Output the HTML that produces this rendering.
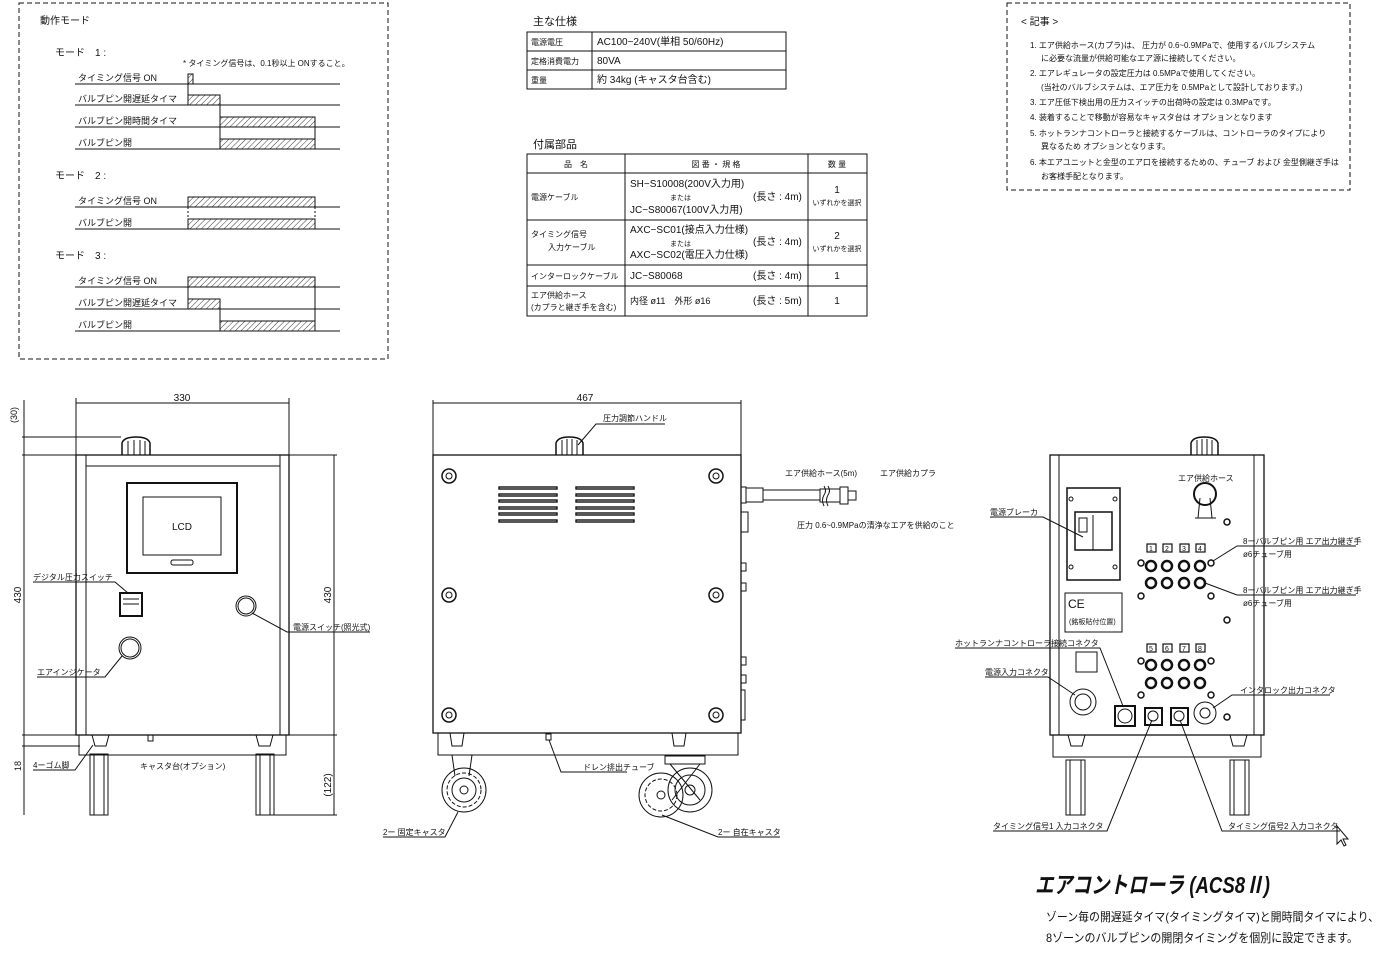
<!DOCTYPE html>
<html><head><meta charset="utf-8"><style>
html,body{margin:0;padding:0;background:#fff}
svg{display:block}
text{font-family:"Liberation Sans","Noto Sans CJK JP",sans-serif;fill:#111}
</style></head><body>
<svg width="1385" height="955" viewBox="0 0 1385 955" xmlns="http://www.w3.org/2000/svg">
<defs>
<pattern id="h" width="4" height="4" patternUnits="userSpaceOnUse" patternTransform="rotate(45)">
<line x1="0" y1="0" x2="0" y2="4" stroke="#222" stroke-width="0.9"/></pattern>
</defs>
<g stroke="#111" fill="none" stroke-width="1">
<rect x="19" y="3" width="369" height="356" stroke-dasharray="5,3"/>
<g>
<line x1="75" y1="84" x2="340" y2="84"/><line x1="75" y1="105" x2="340" y2="105"/>
<line x1="75" y1="127" x2="340" y2="127"/><line x1="75" y1="149" x2="340" y2="149"/>
<rect x="188" y="74" width="5" height="10" fill="url(#h)"/>
<rect x="188" y="95" width="32" height="10" fill="url(#h)"/>
<rect x="220" y="117" width="95" height="10" fill="url(#h)"/>
<rect x="220" y="139" width="95" height="10" fill="url(#h)"/>
<line x1="188" y1="84" x2="188" y2="95"/><line x1="220" y1="105" x2="220" y2="139"/><line x1="315" y1="127" x2="315" y2="139"/>
<line x1="75" y1="207" x2="340" y2="207"/><line x1="75" y1="229" x2="340" y2="229"/>
<rect x="188" y="197" width="127" height="10" fill="url(#h)"/>
<rect x="188" y="219" width="127" height="10" fill="url(#h)"/>
<line x1="188" y1="207" x2="188" y2="219" stroke-dasharray="2,2"/><line x1="315" y1="207" x2="315" y2="219" stroke-dasharray="2,2"/>
<line x1="75" y1="287" x2="340" y2="287"/><line x1="75" y1="309" x2="340" y2="309"/><line x1="75" y1="331" x2="340" y2="331"/>
<rect x="188" y="277" width="127" height="10" fill="url(#h)"/>
<rect x="188" y="299" width="32" height="10" fill="url(#h)"/>
<rect x="220" y="321" width="95" height="10" fill="url(#h)"/>
<line x1="188" y1="287" x2="188" y2="299"/><line x1="220" y1="309" x2="220" y2="321"/>
<line x1="315" y1="287" x2="315" y2="321"/>
</g>
<rect x="527" y="32" width="259" height="57"/>
<line x1="527" y1="51" x2="786" y2="51"/><line x1="527" y1="70" x2="786" y2="70"/>
<line x1="592" y1="32" x2="592" y2="89"/>
<rect x="527" y="154" width="340" height="162"/>
<line x1="527" y1="173" x2="867" y2="173"/><line x1="527" y1="220" x2="867" y2="220"/>
<line x1="527" y1="265" x2="867" y2="265"/><line x1="527" y1="286" x2="867" y2="286"/>
<line x1="625" y1="154" x2="625" y2="316"/><line x1="808" y1="154" x2="808" y2="316"/>
<rect x="1007" y="3" width="343" height="187" stroke-dasharray="5,3"/>

<line x1="76" y1="403" x2="289" y2="403"/>
<line x1="76" y1="398" x2="76" y2="455"/><line x1="289" y1="398" x2="289" y2="455"/>
<line x1="24" y1="400" x2="24" y2="815"/>
<line x1="22" y1="437" x2="121" y2="437"/><line x1="22" y1="455" x2="76" y2="455"/>
<line x1="22" y1="735" x2="76" y2="735"/><line x1="22" y1="746" x2="80" y2="746"/>
<line x1="334" y1="455" x2="334" y2="815"/>
<line x1="289" y1="455" x2="337" y2="455"/><line x1="289" y1="735" x2="337" y2="735"/>
<line x1="274" y1="815" x2="337" y2="815"/>
<rect x="76" y="455" width="213" height="280" stroke-width="1.3"/>
<line x1="86" y1="455" x2="86" y2="735"/><line x1="280" y1="455" x2="280" y2="735"/>
<line x1="86" y1="466" x2="280" y2="466"/>
<path d="M122 455 L122 443 Q124 437 136 437 Q148 437 150 443 L150 455" stroke-width="1.5"/>
<line x1="128" y1="441" x2="128" y2="455"/><line x1="134" y1="440" x2="134" y2="455"/><line x1="140" y1="440" x2="140" y2="455"/><line x1="145" y1="441" x2="145" y2="455"/>
<rect x="127" y="483" width="110" height="90" stroke-width="2"/>
<rect x="143" y="497" width="78" height="58"/>
<rect x="171" y="560" width="22" height="5" rx="2"/>
<rect x="120" y="593" width="22" height="23" stroke-width="2"/>
<line x1="123" y1="599" x2="139" y2="599"/><line x1="123" y1="604" x2="139" y2="604"/>
<circle cx="246" cy="606" r="10"/><circle cx="246" cy="606" r="8"/>
<circle cx="130" cy="648" r="11"/><circle cx="130" cy="648" r="9"/>
<rect x="79" y="735" width="207" height="20"/>
<path d="M92 735 L95 746 L106 746 L109 735"/><path d="M256 735 L259 746 L270 746 L273 735"/>
<rect x="148" y="735" width="5" height="6"/>
<rect x="90" y="754" width="18" height="61"/><rect x="94" y="754" width="10" height="61"/>
<rect x="256" y="754" width="18" height="61"/><rect x="260" y="754" width="10" height="61"/>
<polyline points="33,582 115,582 128,593"/>
<polyline points="370,632 287,632 252,613"/>
<polyline points="37,677 105,677 122,656"/>
<polyline points="33,770 75,770 93,745"/>

<line x1="433" y1="403" x2="741" y2="403"/>
<line x1="433" y1="400" x2="433" y2="455"/><line x1="741" y1="400" x2="741" y2="455"/>
<rect x="433" y="455" width="308" height="278" stroke-width="1.3"/>
<path d="M556 455 L556 443 Q558 437 569 437 Q581 437 583 443 L583 455" stroke-width="1.5"/>
<line x1="562" y1="440" x2="562" y2="455"/><line x1="567" y1="439" x2="567" y2="455"/><line x1="572" y1="439" x2="572" y2="455"/><line x1="577" y1="440" x2="577" y2="455"/>
<polyline points="578,445 596,424 665,424"/>
<g stroke-width="1.5">
<circle cx="449" cy="476" r="7"/><circle cx="449" cy="595" r="7"/><circle cx="449" cy="715" r="7"/>
<circle cx="716" cy="476" r="7"/><circle cx="716" cy="595" r="7"/><circle cx="716" cy="715" r="7"/>
</g>
<g><circle cx="449" cy="476" r="3"/><circle cx="449" cy="595" r="3"/><circle cx="449" cy="715" r="3"/>
<circle cx="716" cy="476" r="3"/><circle cx="716" cy="595" r="3"/><circle cx="716" cy="715" r="3"/></g>
<g stroke-width="1.4">
<rect x="499" y="487" width="58" height="2"/><rect x="499" y="494" width="58" height="2"/><rect x="499" y="500" width="58" height="2"/><rect x="499" y="507" width="58" height="2"/><rect x="499" y="513" width="58" height="2"/><rect x="499" y="520" width="58" height="2"/>
<rect x="576" y="487" width="58" height="2"/><rect x="576" y="494" width="58" height="2"/><rect x="576" y="500" width="58" height="2"/><rect x="576" y="507" width="58" height="2"/><rect x="576" y="513" width="58" height="2"/><rect x="576" y="520" width="58" height="2"/>
</g>
<rect x="741" y="487" width="5" height="16"/><rect x="746" y="488" width="17" height="14"/>
<line x1="763" y1="490" x2="820" y2="490"/><line x1="763" y1="500" x2="820" y2="500"/>
<path d="M824 486 q3 5 0 9 q-3 5 0 11"/><path d="M828 486 q3 5 0 9 q-3 5 0 11"/>
<rect x="820" y="489" width="20" height="13"/><rect x="840" y="487" width="8" height="17"/><rect x="848" y="491" width="8" height="9"/>
<rect x="741" y="512" width="7" height="20"/>
<rect x="741" y="563" width="5" height="8"/><rect x="741" y="583" width="5" height="8"/>
<rect x="741" y="657" width="5" height="8"/><rect x="741" y="675" width="5" height="8"/>
<rect x="741" y="690" width="4" height="30"/>
<rect x="438" y="733" width="300" height="22"/>
<path d="M450 733 L452 746 L462 746 L464 733"/><path d="M672 733 L674 746 L684 746 L686 733"/>
<rect x="546" y="734" width="5" height="6"/>
<polyline points="549,740 561,772 627,772"/>
<path d="M452 755 L455 776 M472 755 L469 776"/>
<circle cx="464" cy="790" r="22"/><circle cx="464" cy="790" r="17" stroke-dasharray="4,2"/><circle cx="464" cy="790" r="12"/><circle cx="464" cy="790" r="4"/>
<circle cx="661" cy="795" r="22"/><circle cx="661" cy="795" r="16" stroke-dasharray="4,2"/><circle cx="661" cy="795" r="4"/>
<circle cx="690" cy="790" r="22"/><circle cx="690" cy="790" r="15"/><circle cx="690" cy="790" r="5"/>
<rect x="665" y="756" width="40" height="8"/><path d="M670 764 L700 800 M700 764 L672 800"/>
<polyline points="383,837 445,837 458,812"/>
<polyline points="780,837 718,837 662,815"/>

<rect x="1050" y="455" width="214" height="280" stroke-width="1.3"/>
<line x1="1059" y1="455" x2="1059" y2="735"/><line x1="1254" y1="455" x2="1254" y2="735"/>
<path d="M1191 455 L1191 443 Q1193 437 1204 437 Q1216 437 1218 443 L1218 455" stroke-width="1.5"/>
<line x1="1197" y1="440" x2="1197" y2="455"/><line x1="1202" y1="439" x2="1202" y2="455"/><line x1="1207" y1="439" x2="1207" y2="455"/><line x1="1212" y1="440" x2="1212" y2="455"/>
<rect x="1067" y="488" width="53" height="92" stroke-width="1.5"/>
<rect x="1075" y="512" width="37" height="38" stroke-width="1.5"/><line x1="1093" y1="515" x2="1093" y2="550"/>
<rect x="1079" y="518" width="8" height="14"/>
<circle cx="1071" cy="499" r="2"/><circle cx="1115" cy="499" r="2"/><circle cx="1071" cy="567" r="2"/><circle cx="1115" cy="567" r="2"/>
<rect x="1065" y="593" width="57" height="39"/>
<circle cx="1205" cy="494" r="11" stroke-width="2"/><path d="M1200 498 L1198 518 M1210 498 L1212 518 M1195 518 L1216 518"/>
<circle cx="1227" cy="522" r="3" stroke-width="1.5"/>
<g stroke-width="1.2">
<rect x="1147" y="544" width="9" height="8"/><rect x="1163" y="544" width="9" height="8"/><rect x="1180" y="544" width="9" height="8"/><rect x="1196" y="544" width="9" height="8"/>
<rect x="1147" y="644" width="9" height="8"/><rect x="1163" y="644" width="9" height="8"/><rect x="1180" y="644" width="9" height="8"/><rect x="1196" y="644" width="9" height="8"/>
</g>
<g stroke-width="2.5">
<circle cx="1151" cy="566" r="5"/><circle cx="1167" cy="566" r="5"/><circle cx="1184" cy="566" r="5"/><circle cx="1200" cy="566" r="5"/>
<circle cx="1151" cy="583" r="5"/><circle cx="1167" cy="583" r="5"/><circle cx="1184" cy="583" r="5"/><circle cx="1200" cy="583" r="5"/>
<circle cx="1151" cy="665" r="5"/><circle cx="1167" cy="665" r="5"/><circle cx="1184" cy="665" r="5"/><circle cx="1200" cy="665" r="5"/>
<circle cx="1151" cy="683" r="5"/><circle cx="1167" cy="683" r="5"/><circle cx="1184" cy="683" r="5"/><circle cx="1200" cy="683" r="5"/>
</g>
<g stroke-width="1.5">
<circle cx="1141" cy="563" r="3"/><circle cx="1211" cy="563" r="3"/><circle cx="1141" cy="596" r="3"/><circle cx="1211" cy="596" r="3"/><circle cx="1227" cy="620" r="3"/>
<circle cx="1141" cy="661" r="3"/><circle cx="1211" cy="661" r="3"/><circle cx="1141" cy="695" r="3"/><circle cx="1211" cy="695" r="3"/><circle cx="1227" cy="717" r="3"/>
</g>
<rect x="1076" y="652" width="21" height="20"/>
<circle cx="1083" cy="702" r="13"/><circle cx="1083" cy="702" r="8"/>
<rect x="1115" y="706" width="20" height="20" stroke-width="2"/><circle cx="1125" cy="716" r="7"/>
<rect x="1145" y="708" width="17" height="17" stroke-width="2"/><circle cx="1153" cy="716" r="5"/>
<rect x="1171" y="708" width="17" height="17" stroke-width="2"/><circle cx="1179" cy="716" r="5"/>
<circle cx="1205" cy="713" r="11"/><circle cx="1205" cy="713" r="5"/>
<rect x="1053" y="735" width="208" height="22"/>
<path d="M1068 735 L1071 746 L1082 746 L1085 735"/><path d="M1230 735 L1233 746 L1244 746 L1247 735"/>
<rect x="1066" y="760" width="19" height="55"/><rect x="1070" y="760" width="11" height="55"/>
<rect x="1230" y="760" width="19" height="55"/><rect x="1234" y="760" width="11" height="55"/>
<polyline points="990,517 1043,517 1083,537"/>
<polyline points="1356,546 1237,546 1213,561"/>
<polyline points="1356,595 1237,595 1205,583"/>
<polyline points="955,648 1100,648 1123,706"/>
<polyline points="985,677 1048,677 1075,695"/>
<polyline points="1330,695 1232,695 1213,708"/>
<polyline points="993,831 1107,831 1152,720"/>
<polyline points="1340,831 1222,831 1180,720"/>
<path d="M1337 826 L1337 844 L1341 840 L1344 846 L1346 845 L1343 839 L1348 839 Z"/>
</g>

<g font-size="9">
<text x="40" y="24" font-size="10">動作モード</text>
<text x="55" y="56" font-size="10">モード　1 :</text>
<text x="183" y="66" font-size="8">* タイミング信号は、0.1秒以上 ONすること。</text>
<text x="78" y="81">タイミング信号 ON</text><text x="78" y="102">バルブピン開遅延タイマ</text>
<text x="78" y="124">バルブピン開時間タイマ</text><text x="78" y="146">バルブピン開</text>
<text x="55" y="179" font-size="10">モード　2 :</text>
<text x="78" y="204">タイミング信号 ON</text><text x="78" y="226">バルブピン開</text>
<text x="55" y="259" font-size="10">モード　3 :</text>
<text x="78" y="284">タイミング信号 ON</text><text x="78" y="306">バルブピン開遅延タイマ</text><text x="78" y="328">バルブピン開</text>

<text x="533" y="25" font-size="11">主な仕様</text>
<text x="531" y="45" font-size="8">電源電圧</text><text x="597" y="45" font-size="10">AC100~240V(単相 50/60Hz)</text>
<text x="531" y="64" font-size="8">定格消費電力</text><text x="597" y="64" font-size="10">80VA</text>
<text x="531" y="83" font-size="8">重量</text><text x="597" y="83" font-size="10">約 34kg (キャスタ台含む)</text>
<text x="533" y="148" font-size="11">付属部品</text>
<text x="576" y="167" text-anchor="middle" font-size="8">品　名</text>
<text x="716" y="167" text-anchor="middle" font-size="8">図 番 ・ 規 格</text>
<text x="837" y="167" text-anchor="middle" font-size="8">数 量</text>
<text x="531" y="200" font-size="8">電源ケーブル</text>
<text x="630" y="187" font-size="10">SH−S10008(200V入力用)</text><text x="670" y="200" font-size="7">または</text><text x="630" y="213" font-size="10">JC−S80067(100V入力用)</text>
<text x="753" y="200" font-size="10">(長さ : 4m)</text>
<text x="837" y="193" text-anchor="middle" font-size="10">1</text><text x="837" y="205" text-anchor="middle" font-size="7">いずれかを選択</text>
<text x="531" y="237" font-size="8">タイミング信号</text><text x="548" y="250" font-size="8">入力ケーブル</text>
<text x="630" y="233" font-size="10">AXC−SC01(接点入力仕様)</text><text x="670" y="246" font-size="7">または</text><text x="630" y="258" font-size="10">AXC−SC02(電圧入力仕様)</text>
<text x="753" y="245" font-size="10">(長さ : 4m)</text>
<text x="837" y="239" text-anchor="middle" font-size="10">2</text><text x="837" y="251" text-anchor="middle" font-size="7">いずれかを選択</text>
<text x="531" y="279" font-size="8">インターロックケーブル</text><text x="630" y="279" font-size="10">JC−S80068</text><text x="753" y="279" font-size="10">(長さ : 4m)</text><text x="837" y="279" text-anchor="middle" font-size="10">1</text>
<text x="531" y="298" font-size="8">エア供給ホース</text><text x="531" y="310" font-size="8">(カプラと継ぎ手を含む)</text>
<text x="630" y="304" font-size="9">内径 ø11　外形 ø16</text><text x="753" y="304" font-size="10">(長さ : 5m)</text><text x="837" y="304" text-anchor="middle" font-size="10">1</text>

<text x="1021" y="25" font-size="10">&lt; 記事 &gt;</text>
<g font-size="8">
<text x="1030" y="48">1. エア供給ホース(カプラ)は、 圧力が 0.6~0.9MPaで、使用するバルブシステム</text>
<text x="1041" y="61">に必要な流量が供給可能なエア源に接続してください。</text>
<text x="1030" y="76">2. エアレギュレータの設定圧力は 0.5MPaで使用してください。</text>
<text x="1041" y="90">(当社のバルブシステムは、エア圧力を 0.5MPaとして設計しております。)</text>
<text x="1030" y="105">3. エア圧低下検出用の圧力スイッチの出荷時の設定は 0.3MPaです。</text>
<text x="1030" y="120">4. 装着することで移動が容易なキャスタ台は オプションとなります</text>
<text x="1030" y="136">5. ホットランナコントローラと接続するケーブルは、コントローラのタイプにより</text>
<text x="1041" y="149">異なるため オプションとなります。</text>
<text x="1030" y="165">6. 本エアユニットと金型のエア口を接続するための、チューブ および 金型側継ぎ手は</text>
<text x="1041" y="179">お客様手配となります。</text>
</g>

<text x="182" y="401" text-anchor="middle" font-size="10">330</text>
<text transform="translate(17,415) rotate(-90)" text-anchor="middle" font-size="9">(30)</text>
<text transform="translate(21,595) rotate(-90)" text-anchor="middle" font-size="10">430</text>
<text transform="translate(21,766) rotate(-90)" text-anchor="middle" font-size="9">18</text>
<text transform="translate(331,595) rotate(-90)" text-anchor="middle" font-size="10">430</text>
<text transform="translate(331,785) rotate(-90)" text-anchor="middle" font-size="10">(122)</text>
<text x="182" y="530" text-anchor="middle" font-size="10">LCD</text>
<text x="33" y="580" font-size="8">デジタル圧力スイッチ</text>
<text x="293" y="630" font-size="8">電源スイッチ(照光式)</text>
<text x="37" y="675" font-size="8">エアインジケータ</text>
<text x="33" y="768" font-size="8">4ーゴム脚</text>
<text x="140" y="769" font-size="8">キャスタ台(オプション)</text>

<text x="585" y="401" text-anchor="middle" font-size="10">467</text>
<text x="603" y="421" font-size="8">圧力調節ハンドル</text>
<text x="785" y="476" font-size="8">エア供給ホース(5m)</text>
<text x="880" y="476" font-size="8">エア供給カプラ</text>
<text x="797" y="528" font-size="8">圧力 0.6~0.9MPaの清浄なエアを供給のこと</text>
<text x="583" y="770" font-size="8">ドレン排出チューブ</text>
<text x="383" y="835" font-size="8">2ー 固定キャスタ</text>
<text x="718" y="835" font-size="8">2ー 自在キャスタ</text>

<text x="1178" y="481" font-size="8">エア供給ホース</text>
<text x="990" y="515" font-size="8">電源ブレーカ</text>
<text x="1068" y="608" font-size="12">CE</text>
<text x="1069" y="624" font-size="7">(銘板貼付位置)</text>
<g font-size="7"><text x="1149" y="551">1</text><text x="1165" y="551">2</text><text x="1182" y="551">3</text><text x="1198" y="551">4</text>
<text x="1149" y="651">5</text><text x="1165" y="651">6</text><text x="1182" y="651">7</text><text x="1198" y="651">8</text></g>
<text x="1243" y="544" font-size="8">8ーバルブピン用 エア出力継ぎ手</text>
<text x="1243" y="557" font-size="8">ø6チューブ用</text>
<text x="1243" y="593" font-size="8">8ーバルブピン用 エア出力継ぎ手</text>
<text x="1243" y="606" font-size="8">ø6チューブ用</text>
<text x="955" y="646" font-size="8">ホットランナコントローラ接続コネクタ</text>
<text x="985" y="675" font-size="8">電源入力コネクタ</text>
<text x="1240" y="693" font-size="8">インタロック出力コネクタ</text>
<text x="993" y="829" font-size="8">タイミング信号1 入力コネクタ</text>
<text x="1228" y="829" font-size="8">タイミング信号2 入力コネクタ</text>

<text x="1035" y="893" font-size="23" font-style="italic" font-weight="bold" textLength="235" lengthAdjust="spacingAndGlyphs">エアコントローラ (ACS8Ⅱ)</text>
<text x="1046" y="921" font-size="12" textLength="333" lengthAdjust="spacingAndGlyphs">ゾーン毎の開遅延タイマ(タイミングタイマ)と開時間タイマにより、</text>
<text x="1046" y="942" font-size="12" textLength="312" lengthAdjust="spacingAndGlyphs">8ゾーンのバルブピンの開閉タイミングを個別に設定できます。</text>
</g>
</svg>
</body></html>
